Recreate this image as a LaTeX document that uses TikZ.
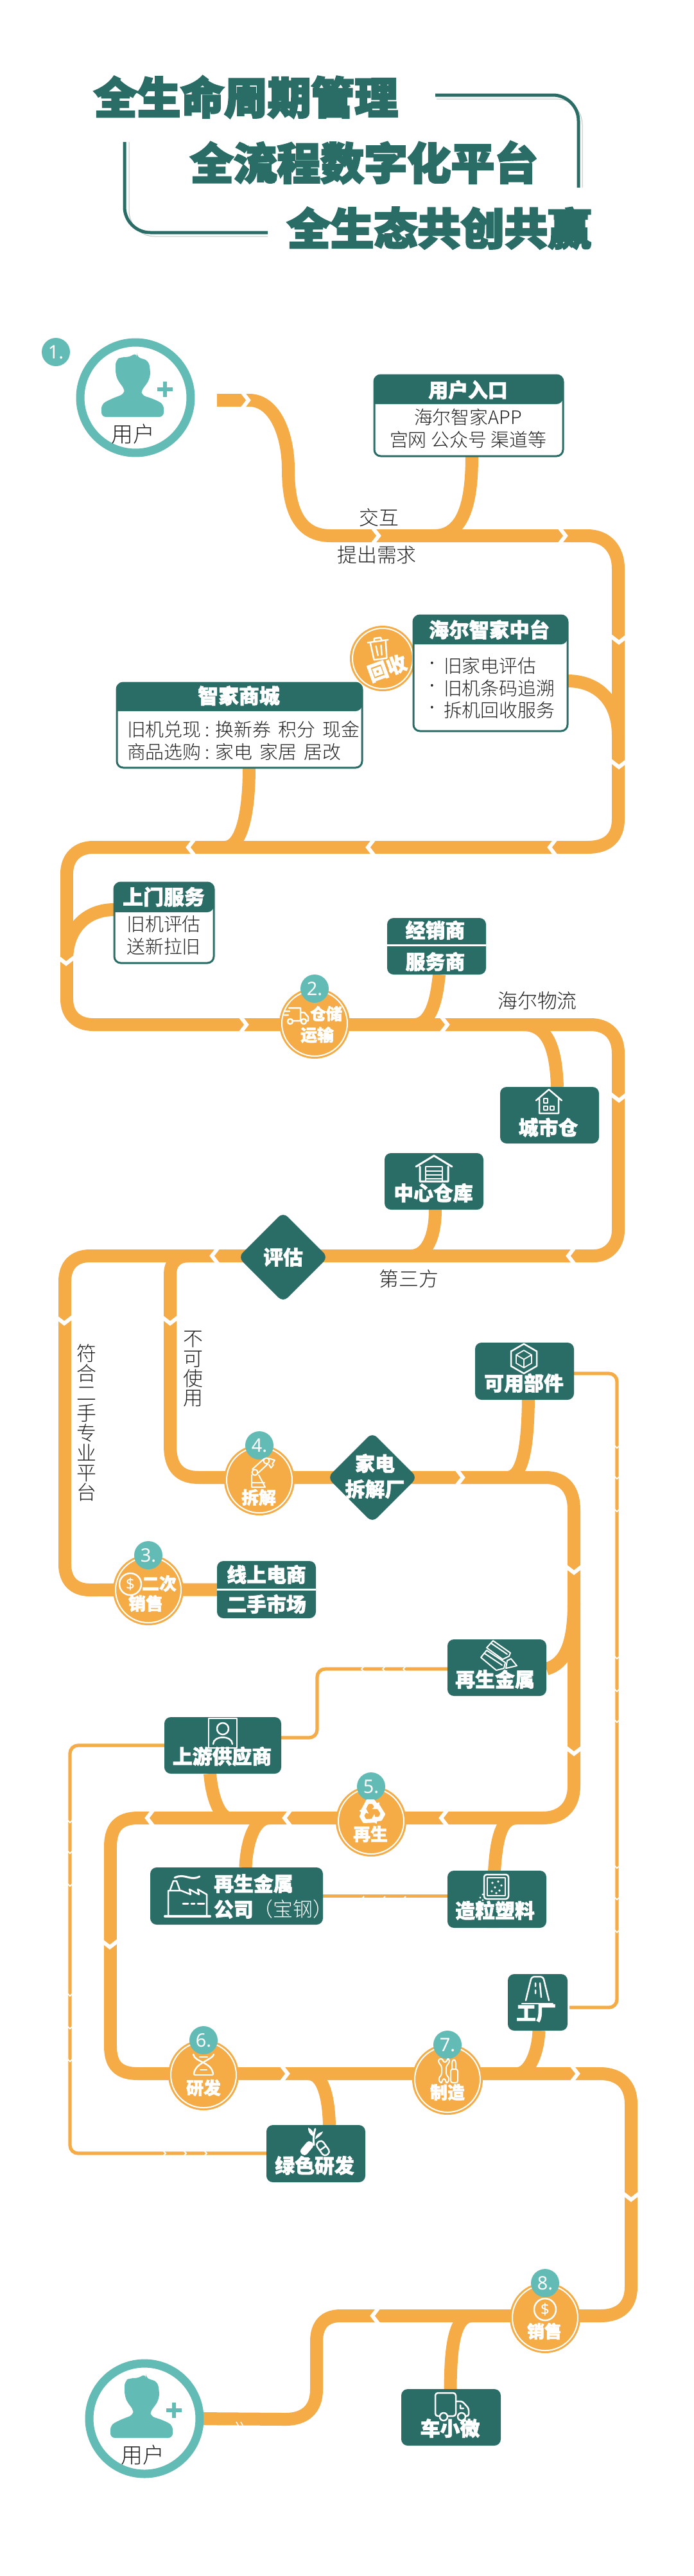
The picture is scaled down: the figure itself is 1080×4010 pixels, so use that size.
\documentclass[tikz,border=0pt]{standalone}
\usepackage{fontspec}
\usetikzlibrary{calc,shapes.geometric,arrows.meta}
\setmainfont{Noto Sans}
\newfontfamily\cjk{Noto Sans CJK SC}[BoldFeatures={FakeBold=2}]
\IfFontExistsTF{Noto Sans CJK SC Light}{\newfontfamily\cjklt{Noto Sans CJK SC Light}}{\newfontfamily\cjklt{Noto Sans CJK SC}}
\newfontfamily\cjkhv{Noto Sans CJK SC}[BoldFeatures={FakeBold=3.8}]
\newcommand\fss[2]{\fontsize{\fpeval{#1*0.5669}pt}{\fpeval{#2*0.5669}pt}\selectfont}
\definecolor{deep}{HTML}{2A6C66}
\definecolor{flowc}{HTML}{F5AC47}
\definecolor{mint}{HTML}{62BBB5}
\definecolor{ink}{HTML}{222222}
\definecolor{edge}{HTML}{B9C4C2}
\pgfdeclarelayer{bg}\pgfsetlayers{bg,main}
\tikzset{
 flow/.style={draw=flowc,line width=0.4cm,line join=round},
 thinflow/.style={draw=flowc,line width=0.105cm,rounded corners=0.25cm},
 tbox/.style={rectangle,fill=deep,rounded corners=0.2cm,inner sep=0,outer sep=0},
 pbox/.style={rectangle,draw=deep,fill=white,line width=0.06cm,rounded corners=0.2cm,inner sep=0,outer sep=0},
 lbl/.style={inner sep=0,outer sep=0,text=ink,font=\cjklt\fss{#1}{#1}},
 lbl/.default=31,
 body/.style={inner sep=0,outer sep=0,text=ink,align=left,font=\cjklt\fss{29}{34.5}},
 wh/.style={inner sep=0,outer sep=0,text=white,font=\cjk\bfseries\fss{#1}{#1}},
 wh/.default=31,
 ttl/.style={inner sep=0,outer sep=0,text=deep,font=\cjkhv\bfseries\fss{68}{68}},
 disc/.style={circle,fill=flowc,inner sep=0,outer sep=0,minimum size=2.2cm},
 badge/.style={circle,fill=mint,inner sep=0,outer sep=0,minimum size=0.88cm,text=white,font=\fss{29}{29}},
 dia/.style={diamond,aspect=1,fill=deep,rounded corners=0.2cm,inner sep=0,outer sep=0,minimum width=2.8cm,minimum height=2.8cm},
 ring/.style={circle,draw=mint,fill=white,line width=0.26cm,inner sep=0,outer sep=0,minimum size=3.44cm},
 ic/.style={draw=white,line width=0.05cm,line join=round,line cap=round},
}
\newcommand\tealbox[5]{\pgfmathsetmacro\bw{#4-#2}\pgfmathsetmacro\bh{#5-#3}\pgfmathsetmacro\bx{(#2+#4)/2}\pgfmathsetmacro\by{(#3+#5)/2}%
 \node[tbox,minimum width=\bw*0.02cm,minimum height=\bh*0.02cm] (#1) at (\bx,\by) {};}
\newcommand\hdrbox[6]{\pgfmathsetmacro\bw{#4-#2}\pgfmathsetmacro\bh{#5-#3}\pgfmathsetmacro\bx{(#2+#4)/2}\pgfmathsetmacro\by{(#3+#5)/2}%
 \node[pbox,minimum width=\bw*0.02cm,minimum height=\bh*0.02cm] (#1) at (\bx,\by) {};
 \fill[deep] (#2,#6) [rounded corners=0.2cm] -- (#2,#3) -- (#4,#3) -- (#4,#6) [sharp corners] -- cycle;}
\newcommand\chev[3]{\draw[white,line width=0.12cm,shift={(#1,#2)},rotate=#3] (-5,-13)--(5,0)--(-5,13);}
\newcommand\tick[3]{\draw[white,line width=0.035cm,shift={(#1,#2)},rotate=#3] (-2,-4)--(2,0)--(-2,4);}
\newcommand\stepdisc[4]{\node[disc] (#1) at (#2,#3) {};
 \draw[white,line width=0.04cm] (#1) circle (51);
 \node[badge] (#1n) at (#2,{#3-54}) {#4};}
\newcommand\userglyph[2]{\begin{scope}[shift={(#1,#2)}]
 \fill[mint,rounded corners=0.14cm] (-53,30)--(-53,10)--(-38,2)--(-17,-6)--(-17,-14)--(-26,-24)--(-31,-36)--(-31,-58)--(-22,-64)--(-12,-62)--(2,-70)--(2,-63)--(20,-58)--(23,-44)--(23,-32)--(17,-20)--(9,-12)--(9,-4)--(28,2)--(44,10)--(44,30)--cycle;
 \draw[mint,line width=0.11cm] (46,-25)--(46,-1) (34,-13)--(58,-13);
 \end{scope}}
\newcommand\dollarsign[2]{\draw[ic] (#1,#2) circle (17);\node[inner sep=0,text=white,font=\bfseries\fss{24}{24}] at (#1,#2) {\$};}
\begin{document}
\begin{tikzpicture}[x=0.02cm,y=-0.02cm]
\useasboundingbox (0,0) rectangle (1080,4010);
\begin{pgfonlayer}{bg}
\fill[white] (0,0) rectangle (1080,4010);
\end{pgfonlayer}
% title
\draw[edge,line width=0.02cm,rounded corners=0.8cm] (680,154)--(907,154)--(907,292);
\draw[deep,line width=0.1cm,rounded corners=0.8cm] (678,148)--(901,148)--(901,292);
\draw[edge,line width=0.02cm,rounded corners=0.8cm] (201,221)--(201,368)--(417,368);
\draw[deep,line width=0.1cm,rounded corners=0.8cm] (194,221)--(194,362)--(417,362);
\node[ttl] (t1) at (383,151) {全生命周期管理};
\node[ttl] (t2) at (567,253) {全流程数字化平台};
\node[ttl] (t3) at (684,355) {全生态共创共赢};
% users
\node[ring] (user1) at (211,619) {};
\userglyph{211}{619}
\node[lbl=34] (user1t) at (207,676) {用户};
\node[badge] (b1) at (87,548) {1.};
\node[ring] (user2) at (225,3765) {};
\userglyph{225}{3765}
\node[lbl=34] (user2t) at (222,3822) {用户};
% discs
\node[disc,minimum size=2.04cm] (recyc) at (596,1025) {};
\draw[white,line width=0.04cm] (recyc) circle (47);
\stepdisc{store}{490}{1593}{2.}
\stepdisc{dism}{404}{2304}{4.}
\stepdisc{resale}{231}{2475}{3.}
\stepdisc{regen}{578}{2835}{5.}
\stepdisc{rnd}{317}{3230}{6.}
\stepdisc{make}{697}{3237}{7.}
\stepdisc{sale}{849}{3608}{8.}
\node[wh=31,rotate=20] (recyct) at (603,1040) {回收};
\begin{scope}[shift={(590,1008)},rotate=8]
 \draw[ic] (-12,-8)--(-10,18)--(10,18)--(12,-8);
 \draw[ic] (-16,-10)--(16,-10) (-6,-10)--(-5,-15)--(5,-15)--(6,-10);
 \draw[ic] (-4,-3)--(-3,12) (4,-3)--(3,12);
\end{scope}
\node[wh=25] (storet1) at (508,1578) {仓储};
\node[wh=26] (storet2) at (494,1611) {运输};
\begin{scope}[shift={(462,1580)}]
 \draw[ic] (-12,-11)--(6,-11)--(6,9)--(-6,9) (6,-4)--(12,-4)--(18,3)--(18,9)--(15,9) (-19,-6)--(-11,-6) (-19,0)--(-13,0);
 \draw[ic] (-10,10) circle (4) (11,10) circle (4);
\end{scope}
\node[wh=27] (dismt) at (403,2331) {拆解};
\draw[ic,line width=0.04cm] (392,2296)--(392,2315)--(413,2315)--(403,2296) (392,2308)--(412,2308);
\draw[ic,line width=0.04cm] (397,2292) circle (4.5) (393,2287)--(411,2271) (402,2293)--(417,2279) (415,2274) circle (4.5) (418,2270)--(428,2273)--(424,2279) (419,2280)--(422,2285)--(426,2280);
\node[wh=27] (resalet1) at (248,2465) {二次};
\node[wh=27] (resalet2) at (227,2496) {销售};
\dollarsign{203}{2466}
\node[wh=27] (regent) at (577,2855) {再生};
\begin{scope}[shift={(579,2821)}]
 \foreach \a in {0,120,240} {
  \begin{scope}[rotate=\a]\fill[white,rounded corners=0.02cm] (-17,-3)--(-8,-20)--(4,-20)--(8,-14)--(12,-16)--(11,-5)--(0,-5)--(4,-8)--(1,-13)--(-5,-13)--(-10,-3)--cycle;\end{scope}
 }
\end{scope}
\node[wh=27] (rndt) at (317,3250) {研发};
\begin{scope}[shift={(317,3215)}]
 \draw[ic] (-16,-17) .. controls (-13,-4) and (13,-6) .. (15,14);
 \draw[ic] (16,-17) .. controls (13,-8) and (-14,-4) .. (-15,14);
 \draw[ic] (-6,-13)--(6,-13) (-5,7)--(5,7) (-14,15)--(14,15);
\end{scope}
\node[wh=27] (maket) at (697,3257) {制造};
\begin{scope}[shift={(697,3223)}]
 \draw[ic,rounded corners=0.06cm,line width=0.04cm] (-14,-18)--(-14,-12)--(-9,-7)--(-9,7)--(-14,12)--(-12,19)--(-8,19)--(-8,13)--(-3,13)--(-3,19)--(1,19)--(3,12)--(-2,7)--(-2,-7)--(3,-12)--(3,-18)--(-1,-18)--(-1,-13)--(-7,-13)--(-7,-18)--cycle;
 \draw[ic,rounded corners=0.06cm,line width=0.04cm] (7,-2)--(7,-14)--(10,-18)--(13,-14)--(13,-2) (5,-2) rectangle (16,19);
\end{scope}
\node[wh=27] (salet) at (848,3629) {销售};
\dollarsign{849}{3595}
% diamonds
\node[dia] (evalu) at (441,1957) {};
\node[wh=31] (evalut) at (441,1957) {评估};
\node[dia] (fact) at (580,2300) {};
\node[wh=31,align=center,font=\cjk\bfseries\fss{31}{40}] (factt) at (584,2298) {家电\\拆解厂};
% header boxes
\hdrbox{entry}{583}{584}{877}{710}{629}
\node[wh] (entryh) at (729,607) {用户入口};
\node[body,align=center] (entryb) at (729,667) {海尔智家APP\\宫网 公众号 渠道等};
\hdrbox{mid}{644}{958}{884}{1138}{1003}
\node[wh=31.5] (midh) at (762,980) {海尔智家中台};
\node[body,anchor=west] (midb) at (691,1071) {旧家电评估\\旧机条码追溯\\拆机回收服务};
\node[inner sep=0,text=ink,font=\fss{29}{34.5},align=left] (middots) at (673,1071) {·\\·\\·};
\hdrbox{mall}{182}{1063}{564}{1195}{1107}
\node[wh=32] (mallh) at (372,1083) {智家商城};
\node[body,anchor=west] (mallb) at (198,1153) {旧机兑现 : 换新券\, 积分\, 现金\\商品选购 : 家电\, 家居\, 居改};
\hdrbox{door}{178}{1374}{333}{1499}{1420}
\node[wh=32] (doorh) at (255,1396) {上门服务};
\node[body,align=center] (doorb) at (255,1456) {旧机评估\\送新拉旧};
% teal boxes
\tealbox{dealer}{603}{1429}{757}{1517}
\draw[white,line width=0.06cm] (dealer.west |- 0,1471) -- (dealer.east |- 0,1471);
\node[wh] (dealer1) at (678,1448) {经销商};
\node[wh] (dealer2) at (678,1497) {服务商};
\tealbox{city}{779}{1692}{933}{1780}
\node[wh] (cityt) at (854,1755) {城市仓};
\begin{scope}[shift={(855,1715)}]
 \draw[ic] (-20,-2)--(0,-19)--(20,-2) (-15,-6)--(-15,18)--(15,18)--(15,-6);
 \draw[ic,line width=0.035cm] (-8,-5) rectangle (-2,2) (-8,7) rectangle (-2,13) (2,7) rectangle (8,13);
\end{scope}
\tealbox{ware}{599}{1795}{753}{1883}
\node[wh] (waret) at (675,1857) {中心仓库};
\begin{scope}[shift={(676,1819)}]
 \draw[ic,line width=0.06cm] (-28,-3)--(0,-20)--(28,-3) (-22,-3)--(-22,20)--(22,20)--(22,-3);
 \draw[ic] (-13,20)--(-13,-3)--(13,-3)--(13,20) (-13,4)--(13,4) (-13,10)--(13,10) (-13,16)--(13,16);
\end{scope}
\tealbox{parts}{740}{2090}{894}{2179}
\node[wh] (partst) at (816,2153) {可用部件};
\begin{scope}[shift={(816,2115)}]
 \draw[ic] (0,-23)--(20,-11.5)--(20,11.5)--(0,23)--(-20,11.5)--(-20,-11.5)--cycle;
 \draw[ic,line width=0.035cm] (0,-13)--(12,-6)--(12,7)--(0,14)--(-12,7)--(-12,-6)--cycle (-12,-6)--(0,1)--(12,-6) (0,1)--(0,14);
\end{scope}
\tealbox{market}{338}{2430}{492}{2519}
\draw[white,line width=0.06cm] (market.west |- 0,2474) -- (market.east |- 0,2474);
\node[wh] (market1) at (415,2451) {线上电商};
\node[wh] (market2) at (415,2497) {二手市场};
\tealbox{metal}{697}{2552}{851}{2640}
\node[wh] (metalt) at (771,2614) {再生金属};
\draw[ic,line width=0.04cm] (758,2565)--(768,2554)--(795,2573)--(793,2578)--(783,2583)--(758,2565) (765,2558)--(790,2575);
\draw[ic,line width=0.04cm] (749,2580)--(758,2569)--(787,2588)--(785,2597)--(773,2600)--cycle (755,2574)--(782,2592);
\draw[ic,line width=0.04cm] (790,2585)--(796,2582)--(805,2593)--(788,2597)--cycle;
\tealbox{supp}{256}{2673}{438}{2761}
\node[wh] (suppt) at (346,2734) {上游供应商};
\begin{scope}[shift={(347,2697)}]
 \draw[ic] (-22,-22) rectangle (22,24);
 \draw[ic] (0,-6) circle (9);
 \draw[ic] (-15,18) .. controls (-15,4) and (15,4) .. (15,18);
\end{scope}
\tealbox{metalco}{234}{2907}{503}{2996}
\node[wh] (metalco1) at (395,2932) {再生金属};
\node[wh,anchor=west] (metalco2) at (333,2972) {公司\cjklt\mdseries（宝钢）};
\draw[ic,line width=0.08cm] (257,2983)--(327,2983);
\draw[ic] (262,2983)--(262,2943)--(282,2943)--(297,2949)--(295,2941)--(310,2949)--(308,2941)--(322,2949)--(322,2983);
\draw[ic] (265,2942)--(270,2928)--(275,2928)--(280,2942);
\draw[ic,line width=0.06cm] (272,2923) .. controls (288,2915) and (296,2929) .. (311,2921);
\draw[ic,line width=0.06cm] (285,2963)--(293,2963) (298,2963)--(303,2963) (308,2963)--(318,2963);
\tealbox{pellet}{697}{2912}{851}{3001}
\node[wh] (pellett) at (771,2974) {造粒塑料};
\begin{scope}[shift={(773,2937)}]
 \draw[ic,rounded corners=0.08cm] (-19,-19) rectangle (19,19);
 \draw[ic,line width=0.03cm] (-14,-14) rectangle (14,14);
 \foreach \p in {(-6,-6),(3,-8),(8,-2),(-2,1),(5,6),(-7,7),(0,10)} \fill[white] \p circle (1.8);
 \foreach \p in {(-21,12),(-25,17),(-21,21),(-26,24)} \fill[white] \p circle (1.6);
\end{scope}
\tealbox{plant}{791}{3073}{884}{3161}
\node[wh] (plantt) at (835,3134) {工厂};
\begin{scope}[shift={(837,3095)}]
 \draw[ic,rounded corners=0.08cm] (-18,19)--(-9,-18)--(9,-18)--(18,19);
 \draw[ic] (-3,-8)--(-3,-3) (-3,3)--(-3,8) (4,-8)--(6,14);
 \draw[ic] (-24,24)--(24,24);
\end{scope}
\tealbox{green}{415}{3308}{569}{3397}
\node[wh] (greent) at (490,3371) {绿色研发};
\begin{scope}[shift={(490,3332)}]
 \draw[white,line width=0.06cm,line cap=round] (1,-18) .. controls (-2,-8) and (-2,0) .. (-1,7);
 \fill[white] (-1,-6) .. controls (-10,-10) and (-10,-16) .. (-10,-20) .. controls (-4,-18) and (-1,-12) .. (-1,-6);
 \fill[white] (1,-2) .. controls (8,-6) and (12,-10) .. (13,-14) .. controls (6,-12) and (1,-8) .. (1,-2);
 \begin{scope}[shift={(-12,12)},rotate=50]\fill[white,rounded corners=0.1cm] (-12,-6) rectangle (12,6);\end{scope}
 \begin{scope}[shift={(13,12)},rotate=-55]\draw[ic,rounded corners=0.1cm] (-12,-6) rectangle (12,6);\draw[ic] (0,-6)--(0,6);\end{scope}
\end{scope}
\tealbox{smallv}{625}{3719}{780}{3807}
\node[wh] (smallvt) at (701,3780) {车小微};
\begin{scope}[shift={(704,3746)}]
 \draw[ic,rounded corners=0.08cm] (-20,15)--(-26,15)--(-26,-21)--(6,-21)--(6,15)--(-6,15);
 \draw[ic,rounded corners=0.06cm] (6,-8)--(16,-8)--(26,3)--(26,15)--(22,15);
 \draw[ic] (-13,16) circle (6) (15,16) circle (6) (13,-2)--(13,3)--(18,3);
\end{scope}
% free labels
\node[lbl] (l1) at (590,806) {交互};
\node[lbl] (l2) at (587,864) {提出需求};
\node[lbl] (l3) at (837,1558) {海尔物流};
\node[lbl] (l4) at (637,1991) {第三方};
\node[lbl,align=center] (l5) at (135,2215) {符\\合\\二\\手\\专\\业\\平\\台};
\node[lbl,align=center] (l6) at (301,2131) {不\\可\\使\\用};
% connectors
\coordinate (s1) at (338,623);
\coordinate (j0) at (295,1955);
\coordinate (thinA) at (887,3125);
\coordinate (j1) at (676,834);
\coordinate (j2) at (963,1145);
\coordinate (j3) at (350,1319);
\coordinate (j4) at (104,1495);
\coordinate (j5) at (645,1595);
\coordinate (j6) at (815,1595);
\coordinate (j7) at (640,1955);
\coordinate (j8) at (790,2300);
\coordinate (j9) at (894,2495);
\coordinate (j10) at (805,2830);
\coordinate (j11) at (420,2830);
\coordinate (j12) at (355,2830);
\coordinate (j13) at (805,3228);
\coordinate (j14) at (480,3228);
\coordinate (j15) at (735,3605);
\begin{pgfonlayer}{bg}
\draw[flow] (s1) -- (390,623) .. controls (430,625) and (449,680) .. (449,730) .. controls (449,800) and (470,834) .. (515,834) -- (915,834) .. controls (945,834) and (963,855) .. (963,885) -- (963,1275) .. controls (963,1305) and (945,1319) .. (915,1319) -- (145,1319) .. controls (120,1319) and (104,1335) .. (104,1360) -- (104,1555) .. controls (104,1580) and (120,1595) .. (145,1595) -- (920,1595) .. controls (945,1595) and (963,1610) .. (963,1640) -- (963,1915) .. controls (963,1940) and (945,1955) .. (925,1955) -- (140,1955) .. controls (115,1955) and (101,1970) .. (101,1995) -- (101,2435) .. controls (101,2460) and (115,2475) .. (140,2475) -- (market.west);
\draw[flow] (j0) .. controls (275,1955) and (265,1965) .. (265,1985) -- (265,2250) .. controls (265,2285) and (280,2300) .. (310,2300) -- (850,2300) .. controls (880,2300) and (894,2320) .. (894,2350) -- (894,2780) .. controls (894,2812) and (875,2830) .. (845,2830) -- (215,2830) .. controls (185,2830) and (172,2845) .. (172,2875) -- (172,3185) .. controls (172,3215) and (185,3228) .. (215,3228) -- (935,3228) .. controls (965,3228) and (983,3245) .. (983,3275) -- (983,3560) .. controls (983,3590) and (965,3605) .. (935,3605) -- (530,3605) .. controls (505,3605) and (493,3620) .. (493,3645) -- (493,3720) .. controls (493,3750) and (475,3766) .. (445,3766) -- (user2.east);
\draw[flow] ($(entry.south)+(5,0)$) .. controls (735,775) and (725,834) .. (j1);
\draw[flow] (mid.east |- 0,1060) .. controls (930,1060) and (963,1090) .. (j2);
\draw[flow] ($(mall.south)+(15,0)$) .. controls (388,1260) and (378,1319) .. (j3);
\draw[flow] (door.west |- 0,1416) .. controls (135,1416) and (104,1445) .. (j4);
\draw[flow] ($(dealer.south)+(4,0)$) .. controls (680,1560) and (670,1595) .. (j5);
\draw[flow] (j6) .. controls (850,1595) and (866,1625) .. ($(city.north)+(12,0)$);
\draw[flow] ($(ware.south)+(2,0)$) .. controls (678,1925) and (665,1955) .. (j7);
\draw[flow] ($(parts.south)+(6,0)$) .. controls (822,2250) and (815,2300) .. (j8);
\draw[flow] (metal.east |- 0,2598) .. controls (880,2590) and (894,2560) .. (j9);
\draw[flow] ($(pellet.south)+(-6,0)$) .. controls (768,2875) and (775,2830) .. (j10);
\draw[flow] ($(metalco.north)+(14,0)$) .. controls (384,2870) and (395,2830) .. (j11);
\draw[flow] ($(supp.south)+(-20,0)$) .. controls (330,2795) and (340,2825) .. (j12);
\draw[flow] ($(plant.south)+(2,0)$) .. controls (838,3195) and (825,3228) .. (j13);
\draw[flow] ($(green.north)+(21,0)$) .. controls (512,3270) and (505,3228) .. (j14);
\draw[flow] ($(smallv.north)+(-1,0)$) .. controls (702,3665) and (705,3605) .. (j15);
% thin links
\draw[thinflow] (parts.east |- 0,2138) -- (961,2138) -- (961,3125) -- (thinA);
\draw[thinflow] (metal.west |- 0,2598) -- (494,2598) -- (494,2705) -- (supp.east |- 0,2705);
\draw[thinflow] (supp.west |- 0,2717) -- (109,2717) -- (109,3352) -- (green.west |- 0,3352);
\draw[thinflow] (metalco.east) -- (pellet.west |- metalco.east);
% chevrons
\chev{382}{623}{0}\chev{585}{834}{0}\chev{876}{834}{0}
\chev{964}{995}{-90}\chev{964}{1189}{-90}
\chev{861}{1319}{180}\chev{578}{1319}{180}\chev{298}{1319}{180}
\chev{103}{1495}{-90}\chev{379}{1595}{0}\chev{692}{1595}{0}
\chev{964}{1708}{-90}\chev{890}{1955}{180}\chev{335}{1955}{180}
\chev{100}{2055}{-90}\chev{265}{2055}{-90}\chev{716}{2300}{0}
\chev{894}{2443}{-90}\chev{894}{2725}{-90}
\chev{692}{2830}{180}\chev{448}{2830}{180}\chev{234}{2830}{180}
\chev{171}{3026}{-90}\chev{443}{3228}{0}\chev{895}{3228}{0}
\chev{983}{3419}{-90}\chev{585}{3605}{180}
\draw[white,line width=0.03cm] (368,3770)--(372,3777) (375,3770)--(379,3777);
% ticks on thin links
\foreach \y in {2252,2300,2351,2580,2631,2679,2906,2955,3006} {\tick{961}{\y}{-90}}
\foreach \x in {565,598,630} {\tick{\x}{2598}{180}\tick{\x}{2956}{180}}
\foreach \y in {2835,2883,2934,3105,3156,3207} {\tick{109}{\y}{-90}}
\foreach \x in {256,288,320} {\tick{\x}{3352}{0}}
\end{pgfonlayer}
\end{tikzpicture}
\end{document}
